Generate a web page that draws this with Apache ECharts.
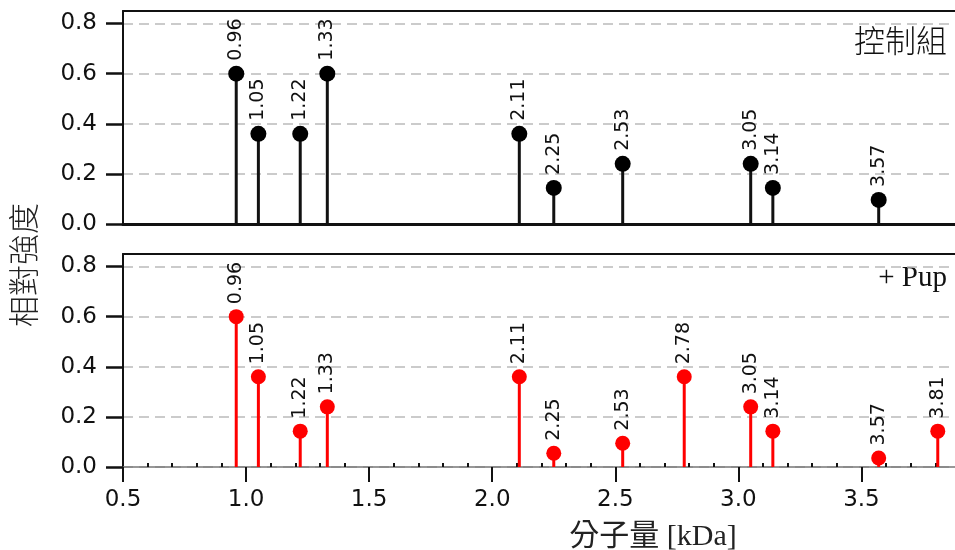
<!DOCTYPE html>
<html>
<head>
<meta charset="utf-8">
<script src="https://cdn.jsdelivr.net/npm/echarts@6/dist/echarts.min.js"></script>
<style>html,body{margin:0;padding:0;background:#fff}#c{width:955px;height:550px}</style>
</head>
<body>
<div id="c"></div>
<script>
var ctrlX = [0.96, 1.05, 1.22, 1.33, 2.11, 2.25, 2.53, 3.05, 3.14, 3.57];
var ctrlY = [0.60, 0.36, 0.36, 0.60, 0.36, 0.144, 0.24, 0.24, 0.144, 0.096];
var pupX = [0.96, 1.05, 1.22, 1.33, 2.11, 2.25, 2.53, 2.78, 3.05, 3.14, 3.57, 3.81];
var pupY = [0.60, 0.36, 0.143, 0.24, 0.36, 0.055, 0.095, 0.36, 0.24, 0.143, 0.036, 0.143];
var yTicks = [0, 0.2, 0.4, 0.6, 0.8];
var xTicks = [0.5, 1.0, 1.5, 2.0, 2.5, 3.0, 3.5];
var xMinor = [];
for (var i = 6; i <= 38; i++) { if (i % 5 !== 0) xMinor.push(i / 10); }
var panelTitles = ['控制組', '+ Pup'];
var yName = '相對強度';
var xName = '分子量 [kDa]';

var XMIN = 0.5, XMAX = 3.88, YMAX = 0.85;
var sans = 'DejaVu Sans, sans-serif';

function pairs(xs, ys) { return xs.map(function (x, i) { return [x, ys[i]]; }); }

function frameAxis(g) {
  return { type: 'value', gridIndex: g, position: 'top', min: XMIN, max: XMAX,
    axisLine: { show: true, onZero: false, lineStyle: { color: '#111', width: 2 } },
    axisTick: { show: false }, axisLabel: { show: false }, splitLine: { show: false } };
}
function yAx(g) {
  return { type: 'value', gridIndex: g, min: 0, max: YMAX,
    axisLine: { show: true, lineStyle: { color: '#111', width: 2 } },
    axisTick: { show: true, customValues: yTicks, length: 17, lineStyle: { color: '#111', width: 2.5 } },
    axisLabel: { customValues: yTicks, margin: 26, fontSize: 23, color: '#111', fontFamily: sans,
      formatter: function (v) { return v.toFixed(1); } },
    splitLine: { show: true, lineStyle: { color: '#bbb', width: 1.5, type: [10, 6] } } };
}
function stems(xi, yi, data, color) {
  return { type: 'bar', xAxisIndex: xi, yAxisIndex: yi, data: data, barWidth: 3,
    itemStyle: { color: color }, z: 2, silent: true };
}
function heads(xi, yi, data, color, size) {
  return { type: 'scatter', xAxisIndex: xi, yAxisIndex: yi, data: data, symbolSize: size,
    itemStyle: { color: color, opacity: 1 }, z: 3,
    label: { show: true, position: 'top', distance: 5, rotate: 90, align: 'left', verticalAlign: 'middle',
      fontSize: 19, color: '#111', fontFamily: sans,
      formatter: function (p) { return p.value[0].toFixed(2); } } };
}

var chart = echarts.init(document.getElementById('c'), null, { renderer: 'canvas' });
chart.setOption({
  animation: false,
  backgroundColor: '#fff',
  grid: [
    { left: 123, right: 0, top: 11, height: 213 },
    { left: 123, right: 0, top: 254, height: 213 }
  ],
  xAxis: [
    { type: 'value', gridIndex: 0, min: XMIN, max: XMAX,
      axisLine: { show: true, onZero: false, lineStyle: { color: '#111', width: 3 } },
      axisTick: { show: false }, axisLabel: { show: false }, splitLine: { show: false } },
    frameAxis(0),
    { type: 'value', gridIndex: 1, min: XMIN, max: XMAX,
      axisLine: { show: true, onZero: false, lineStyle: { color: '#777', width: 1.5 } },
      axisTick: { show: true, customValues: xTicks, length: 15, lineStyle: { color: '#111', width: 2 } },
      axisLabel: { customValues: xTicks, margin: 22, fontSize: 23, color: '#111', fontFamily: sans,
        formatter: function (v) { return v.toFixed(1); } },
      splitLine: { show: false } },
    { type: 'value', gridIndex: 1, min: XMIN, max: XMAX,
      axisLine: { show: false },
      axisTick: { show: true, customValues: xMinor, length: 4, lineStyle: { color: '#111', width: 2 } },
      axisLabel: { show: false }, splitLine: { show: false } },
    frameAxis(1)
  ],
  yAxis: [yAx(0), yAx(1)],
  series: [
    stems(0, 0, pairs(ctrlX, ctrlY), '#111'),
    heads(0, 0, pairs(ctrlX, ctrlY), '#000', 16),
    stems(2, 1, pairs(pupX, pupY), '#ff0000'),
    heads(2, 1, pairs(pupX, pupY), '#ff0000', 15)
  ],
  graphic: [
    { type: 'text', right: 8, top: 25, style: { text: panelTitles[0], fontSize: 31,
      fontFamily: 'Noto Sans CJK TC', fontWeight: 300, fill: '#111' } },
    { type: 'text', right: 8, top: 264, style: { text: panelTitles[1], fontSize: 29,
      fontFamily: 'Liberation Serif, serif', fill: '#111' } },
    { type: 'text', x: 23, y: 265, rotation: Math.PI / 2, style: { text: yName, fontSize: 31,
      fontFamily: 'Noto Sans CJK TC', fontWeight: 300, fill: '#222', align: 'center', verticalAlign: 'middle' } },
    { type: 'text', x: 653, y: 537, style: { text: xName, fontSize: 30,
      fontFamily: 'Liberation Serif, Noto Sans CJK TC, serif', fill: '#222', align: 'center', verticalAlign: 'middle' } }
  ]
});
</script>
</body>
</html>
